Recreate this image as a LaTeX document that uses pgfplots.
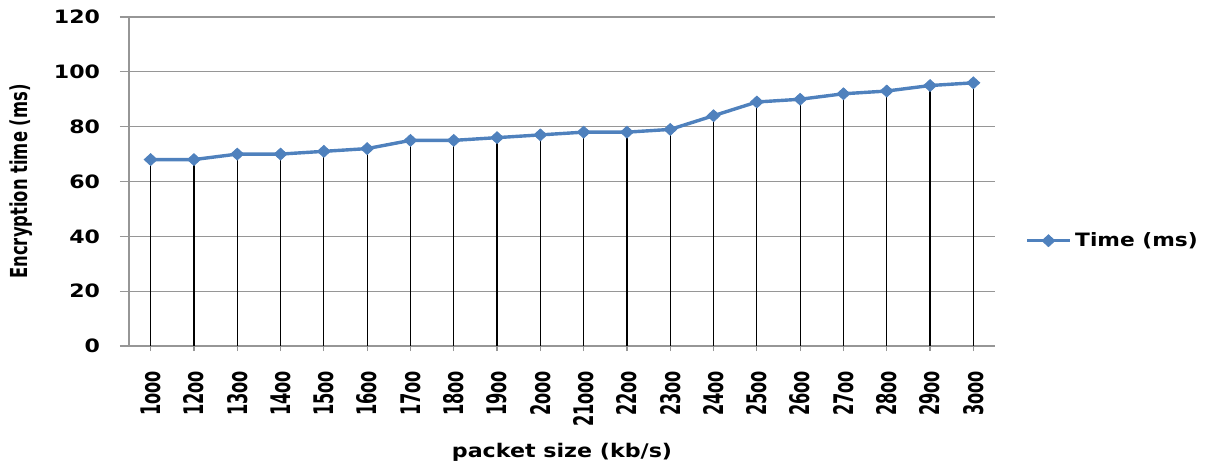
\documentclass[border=0pt]{standalone}
\usepackage{fontspec}
\usepackage{pgfplots}
\usepackage{pgfplotstable}
\pgfplotsset{compat=1.18}

% bold sans faces, widened or narrowed per text direction
\newfontfamily\hfont[FakeStretch=1.18]{DejaVu Sans Bold}
\newfontfamily\ytickfont[FakeStretch=1.2]{DejaVu Sans Bold}
\newfontfamily\xtickfont[FakeStretch=0.6]{DejaVu Sans Bold}
\newfontfamily\ylabfont[FakeStretch=0.7]{DejaVu Sans Bold}

\definecolor{serblue}{RGB}{79,129,189}
\definecolor{gridgray}{RGB}{150,150,150}

\pgfplotstableread{
idx time
0  68
1  68
2  70
3  70
4  71
5  72
6  75
7  75
8  76
9  77
10 78
11 78
12 79
13 84
14 89
15 90
16 92
17 93
18 95
19 96
}\enctime

\begin{document}
\begin{tikzpicture}
\useasboundingbox (-64.5pt,-60pt) rectangle (539.5pt,173pt);
\begin{axis}[
  at={(0,0)}, anchor=south west,
  scale only axis,
  width=433pt, height=164.5pt,
  xmin=-0.5, xmax=19.5,
  ymin=0, ymax=120,
  ytick={0,20,...,120},
  xtick={0,...,19},
  xticklabels={1ooo,12oo,13oo,14oo,15oo,16oo,17oo,18oo,19oo,2ooo,21ooo,22oo,23oo,24oo,25oo,26oo,27oo,28oo,29oo,3ooo},
  axis lines=left,
  axis line style={-, draw=gridgray, line width=0.6pt},
  tick align=outside,
  xtick style={draw=gridgray, line width=0.6pt, /pgfplots/major tick length=2.5pt},
  ytick style={draw=gridgray, line width=0.6pt, /pgfplots/major tick length=4.5pt},
  ymajorgrids,
  major grid style={draw=gridgray, line width=0.6pt},
  /pgf/number format/assume math mode=true,
  yticklabel style={font=\ytickfont\fontsize{9.2}{10}\selectfont, anchor=east, inner sep=0pt, xshift=-10pt},
  xticklabel style={font=\xtickfont\fontsize{13.5}{14}\selectfont, rotate=90, anchor=east, inner sep=0pt},
  xticklabel shift=8pt,
  ylabel={Encryption time (ms)},
  ylabel style={font=\ylabfont\fontsize{11.7}{12}\selectfont, at={(axis description cs:-0.125,0.5)}, anchor=center},
  xlabel={packet size (kb/s)},
  xlabel style={font=\hfont\fontsize{9.4}{10}\selectfont, at={(axis description cs:0.5,-0.322)}, anchor=center},
  legend style={at={(axis description cs:1.035,0.32)}, anchor=west, draw=none, fill=none,
    font=\hfont\fontsize{9.2}{10}\selectfont, inner sep=0pt},
  legend cell align=left,
  legend image code/.code={
    \draw[mark repeat=2, mark phase=2] plot coordinates {(0cm,0cm) (0.37cm,0cm) (0.74cm,0cm)};
  },
]
% drop lines from each point to the axis
\addplot[ycomb, black, line width=0.6pt, forget plot] table[x=idx, y=time] {\enctime};
\addplot[serblue, line width=1.7pt, mark=diamond*, mark size=2.9pt,
  mark options={fill=serblue, draw=serblue, line width=0.5pt, xscale=1.45}] table[x=idx, y=time] {\enctime};
\addlegendentry{Time (ms)}
\end{axis}
\end{tikzpicture}
\end{document}
